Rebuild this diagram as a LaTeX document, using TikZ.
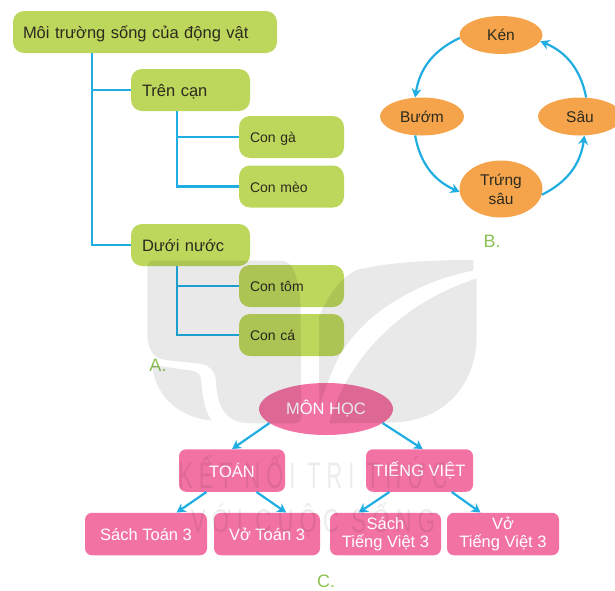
\documentclass[tikz,border=0pt]{standalone}
\usepackage{fontspec}
\setmainfont{Liberation Sans}
\newfontfamily\wmfont[LetterSpace=28]{Liberation Sans}
\usetikzlibrary{shapes.geometric,arrows.meta,calc}
\definecolor{boxgreen}{HTML}{BDD75C}
\definecolor{boxorange}{HTML}{F6A44C}
\definecolor{boxpink}{HTML}{F272A3}
\definecolor{linkblue}{HTML}{1FADE2}
\definecolor{inkdark}{HTML}{2B2B1E}
\definecolor{lettergreen}{HTML}{8CC152}
\tikzset{
  gbox/.style={draw=none,fill=boxgreen,rounded corners=11pt,text=inkdark,align=left,
    inner ysep=0pt,minimum height=42pt,text width=#1},
  bigtext/.style={font=\fontsize{16.5}{20}\selectfont,text height=12.5pt,text depth=0pt},
  smalltext/.style={font=\fontsize{14}{17}\selectfont,text height=11pt,text depth=0pt},
  obox/.style={ellipse,draw=none,fill=boxorange,text=inkdark,align=center,inner sep=0pt,font=\fontsize{15.5}{19}\selectfont},
  pbox/.style={draw=none,fill=boxpink,rounded corners=7pt,text=white,align=center,
    inner sep=0pt,minimum height=42.5pt,font=\fontsize{16.5}{18}\selectfont},
  tree/.style={draw=linkblue,line width=2.3pt},
  link/.style={draw=linkblue,line width=2.2pt,-{Stealth[length=9pt,width=10pt]}},
  letter/.style={text=lettergreen,font=\fontsize{18}{20}\selectfont},
  wmshape/.style={fill=black,fill opacity=.085,draw=none},
  wmtext/.style={text=black,text opacity=.075,transform shape}
}
\begin{document}
\begin{tikzpicture}[x=1pt,y=-1pt]
\useasboundingbox (0,0) rectangle (615,590);
% Diagram A
\node[gbox=244pt,inner xsep=10pt,bigtext] (root) at (145,32) {Môi trường sống của động vật};
\node[gbox=97pt,inner xsep=11pt,bigtext] (tren) at (190.5,90) {Trên cạn};
\node[gbox=83pt,inner xsep=11pt,smalltext] (ga) at (291.5,137) {Con gà};
\node[gbox=83pt,inner xsep=11pt,smalltext] (meo) at (291.5,186.5) {Con mèo};
\node[gbox=97pt,inner xsep=11pt,bigtext] (duoi) at (190.5,245) {Dưới nước};
\node[gbox=83pt,inner xsep=11pt,smalltext] (tom) at (291.5,286) {Con tôm};
\node[gbox=83pt,inner xsep=11pt,smalltext] (ca) at (291.5,335) {Con cá};
\coordinate (ta) at (92,0);
\coordinate (tb) at (177,0);
\draw[tree] (root.south -| ta) |- (tren.west);
\draw[tree] (root.south -| ta) |- (duoi.west);
\draw[tree] (tren.south -| tb) |- (ga.west);
\draw[tree] (tren.south -| tb) |- (meo.west);
\draw[tree] (duoi.south -| tb) |- (tom.west);
\draw[tree] (duoi.south -| tb) |- (ca.west);
\node[letter] (la) at (158,365) {A.};
% Diagram B
\node[obox,minimum width=83pt,minimum height=38pt] (ken) at (501,35) {Kén};
\node[obox,minimum width=84pt,minimum height=38pt] (buom) at (422,116.5) {Bướm};
\node[obox,minimum width=84pt,minimum height=38pt] (sau) at (580,116.5) {Sâu};
\node[obox,minimum width=83pt,minimum height=57pt] (trung) at (501,189) {Trứng\\sâu};
\draw[link] (ken.184) to[bend right=28] (buom.110);
\draw[link] (buom.250) to[bend right=28] (trung.184);
\draw[link] (trung.-8) to[bend right=28] (sau.-77);
\draw[link] (sau.72) to[bend right=28] (ken.-9);
\node[letter] (lb) at (492,241) {B.};
% Diagram C
\node[ellipse,fill=boxpink,text=white,inner sep=0pt,minimum width=134pt,minimum height=52pt,font=\fontsize{16.5}{18}\selectfont] (mon) at (326,409) {MÔN HỌC};
\node[pbox,minimum width=106pt] (toan) at (232,470.5) {TOÁN};
\node[pbox,minimum width=107pt] (tv) at (419.5,470.5) {TIẾNG VIỆT};
\node[pbox,minimum width=122pt] (st) at (146,534) {Sách Toán 3};
\node[pbox,minimum width=106pt] (vt) at (267,534) {Vở Toán 3};
\node[pbox,minimum width=111pt] (stv) at (385.5,534) {Sách\\Tiếng Việt 3};
\node[pbox,minimum width=112pt] (vtv) at (503,534) {Vở\\Tiếng Việt 3};
\draw[link] (mon.194) -- (toan.north);
\draw[link] (mon.-14) -- ($(tv.north west)!.53!(tv.north east)$);
\draw[link] ($(toan.south west)!.26!(toan.south east)$) -- ($(st.north west)!.75!(st.north east)$);
\draw[link] ($(toan.south west)!.73!(toan.south east)$) -- ($(vt.north west)!.68!(vt.north east)$);
\draw[link] ($(tv.south west)!.22!(tv.south east)$) -- ($(stv.north west)!.26!(stv.north east)$);
\draw[link] ($(tv.south west)!.80!(tv.south east)$) -- ($(vtv.north west)!.30!(vtv.north east)$);
\node[letter] (lc) at (326,581) {C.};
% Watermark
\begin{scope}[shift={(130,250)},x=.3333pt,y=-.3333pt]
\fill[wmshape,rounded corners=6pt] (52,32) -- (470,32) .. controls (495,60) and (510,110) .. (512,180) -- (514,520) -- (350,520) .. controls (290,510) and (265,470) .. (258,400) .. controls (255,365) and (235,345) .. (200,340) -- (105,330) .. controls (70,320) and (52,290) .. (52,240) -- cycle;
\fill[wmshape] (66,345) -- (185,362) .. controls (205,365) and (212,375) .. (214,395) .. controls (218,445) and (225,485) .. (245,512) .. controls (170,505) and (80,460) .. (66,345) -- cycle;
\fill[wmshape] (567,200) .. controls (590,150) and (620,90) .. (680,60) .. controls (780,35) and (920,30) .. (1030,30) -- (1030,62) .. controls (880,90) and (700,180) .. (622,330) .. controls (600,375) and (580,430) .. (568,475) -- cycle;
\fill[wmshape] (1040,85) -- (1040,270) .. controls (1035,390) and (960,510) .. (790,518) -- (598,520) .. controls (640,360) and (780,170) .. (1040,85) -- cycle;
\end{scope}
\node[wmtext,xscale=.585,font=\wmfont\fontsize{37}{40}\selectfont] (wa) at (313,472) {KẾT NỐI TRI THỨC};
\node[wmtext,xscale=.67,font=\wmfont\fontsize{33}{36}\selectfont] (wb) at (313,520) {VỚI CUỘC SỐNG};
\end{tikzpicture}
\end{document}
